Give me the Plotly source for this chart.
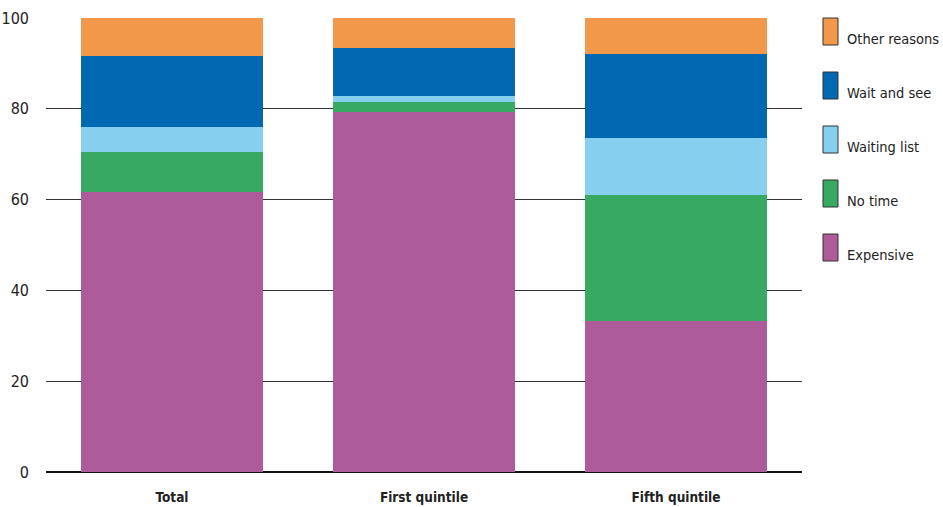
import plotly.graph_objects as go

categories = ["Total", "First quintile", "Fifth quintile"]
series_names = ["Expensive", "No time", "Waiting list", "Wait and see", "Other reasons"]
expensive = [61.7, 79.4, 33.3]
no_time = [8.8, 2.1, 27.7]
waiting_list = [5.5, 1.3, 12.6]
wait_and_see = [15.6, 10.6, 18.5]
other_reasons = [8.4, 6.6, 7.9]
y_ticks = [0, 20, 40, 60, 80, 100]

series_values = [expensive, no_time, waiting_list, wait_and_see, other_reasons]
colors = ["#AD5B99", "#38A963", "#86CFEF", "#0069B1", "#F2984A"]

FONT = "Liberation Sans Narrow, Arial Narrow, DejaVu Sans Condensed, sans-serif"

fig = go.Figure()
for name, vals, col in zip(series_names, series_values, colors):
    fig.add_trace(go.Bar(
        x=categories, y=vals, name=name,
        marker=dict(color=col, line=dict(width=0)),
        showlegend=False,
    ))

W, H = 943, 507
ml, mr, mt, mb = 46, 141, 18, 35
pw, ph = W - ml - mr, H - mt - mb

def px_to_paper_x(px):
    return (px - ml) / pw

def px_to_paper_y(py):
    return (H - mb - py) / ph

# manual legend (top to bottom: reverse order)
shapes = []
annotations = []
for i, (name, col) in enumerate(zip(series_names[::-1], colors[::-1])):
    top = 18 + i * 54
    bot = top + 27
    shapes.append(dict(
        type="rect", xref="paper", yref="paper",
        x0=px_to_paper_x(823), x1=px_to_paper_x(838),
        y0=px_to_paper_y(bot), y1=px_to_paper_y(top),
        fillcolor=col, line=dict(color="#333333", width=1),
    ))
    annotations.append(dict(
        xref="paper", yref="paper",
        x=px_to_paper_x(845), y=px_to_paper_y(bot - 6),
        xanchor="left", yanchor="middle",
        text=name, showarrow=False,
        font=dict(family=FONT, size=14.5, color="#222222"),
    ))

fig.update_layout(
    width=W, height=H,
    margin=dict(l=ml, r=mr, t=mt, b=mb, autoexpand=False),
    barmode="stack",
    bargap=0.278,
    plot_bgcolor="white",
    paper_bgcolor="white",
    font=dict(family=FONT, size=15, color="#222222"),
    shapes=shapes,
    annotations=annotations,
    xaxis=dict(
        showgrid=False, showline=False, zeroline=False,
        tickfont=dict(family=FONT, size=13.5, color="#222222", weight="bold"),
        ticks="", ticklabelstandoff=15, automargin=False,
    ),
    yaxis=dict(
        range=[0, 100], tickvals=y_ticks,
        showgrid=True, gridcolor="#333333", gridwidth=1,
        zeroline=True, zerolinecolor="#111111", zerolinewidth=1.5,
        showline=False, ticks="",
        tickfont=dict(family=FONT, size=16, color="#222222"),
        ticklabelstandoff=16, automargin=False,
    ),
)

fig.write_html("out.html")
